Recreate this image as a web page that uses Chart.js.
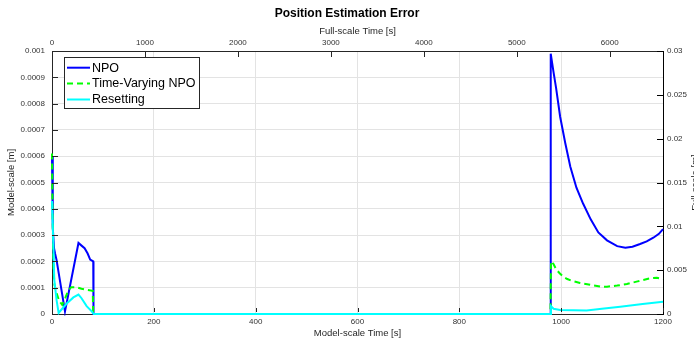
<!DOCTYPE html>
<html>
<head>
<meta charset="utf-8">
<script src="https://cdn.jsdelivr.net/npm/chart.js@4/dist/chart.umd.min.js"></script>
<style>
  html, body { margin: 0; padding: 0; background: #fff; overflow: hidden; }
  canvas { display: block; }
</style>
</head>
<body>
<canvas id="c" width="694" height="343"></canvas>
<script>
// Position error of three estimators, model-scale time [s] vs model-scale error [m]
const npoTime   = [0, 1.5, 4, 6, 9, 25.5, 52, 58, 64, 70, 75, 81, 81.5, 979, 979.5, 985, 990, 998, 1008, 1018, 1030, 1043, 1058, 1073, 1090, 1110, 1126, 1140, 1155, 1168, 1181, 1192, 1200];
const npoError  = [0.0006, 0.00033, 0.00025, 0.00023, 0.000205, 0.00001, 0.00027, 0.00026, 0.00025, 0.00023, 0.000207, 0.0002, 0, 0, 0.00099, 0.00092, 0.00086, 0.00075, 0.00065, 0.00056, 0.00048, 0.00042, 0.00036, 0.00031, 0.00028, 0.000258, 0.000252, 0.000256, 0.000266, 0.000276, 0.00029, 0.000305, 0.000323];

const tvnpoTime  = [0, 1, 3, 5, 9, 14, 20, 26, 32, 38, 48, 58, 70, 80, 81, 979, 980, 985, 990, 997, 1004, 1012, 1020, 1037, 1060, 1077, 1090, 1110, 1129, 1150, 1175, 1188, 1200];
const tvnpoError = [0.00061, 0.0004, 0.00017, 0.00011, 0.00008, 0.00005, 0.000035, 0.00006, 0.00009, 0.000102, 0.000102, 0.000096, 0.000091, 0.000088, 0, 0, 0.0002, 0.00019, 0.00017, 0.000155, 0.000142, 0.000133, 0.000127, 0.000118, 0.00011, 0.000104, 0.000104, 0.000108, 0.000114, 0.000124, 0.000136, 0.000138, 0.000133];

const resetTime  = [0, 2, 4.5, 9, 13, 20, 29, 42, 52, 58, 68, 78, 82, 979, 980, 985, 998, 1050, 1080, 1116, 1160, 1200];
const resetError = [0.00043, 0.0003, 0.00013, 0.000053, 0.000004, 0.00002, 0.00004, 0.000063, 0.000074, 0.00006, 0.00003, 0.00001, 0, 0, 0.00003, 0.00002, 0.000015, 0.000013, 0.00002, 0.000028, 0.000038, 0.000047];

// Axis ticks
const modelTimeTicks  = [0, 200, 400, 600, 800, 1000, 1200];
const fullTimeTicks   = [0, 1000, 2000, 3000, 4000, 5000, 6000];
const modelErrorTicks = [0, 0.0001, 0.0002, 0.0003, 0.0004, 0.0005, 0.0006, 0.0007, 0.0008, 0.0009, 0.001];
const fullErrorTicks  = [0, 0.005, 0.01, 0.015, 0.02, 0.025, 0.03];

// Froude scaling, 1:30 model
const lengthScale = 30;
const timeScale = Math.sqrt(lengthScale);
const modelTimeMax = 1200;
const modelErrorMax = 0.001;

const pts = (t, v) => t.map((x, i) => ({ x, y: v[i] }));
const fmt = v => String(parseFloat(Number(v).toFixed(6)));
const FONT = "'Liberation Sans', Arial, Helvetica, sans-serif";
Chart.defaults.font.family = FONT;

const AXIS = '#262626';
const GRID = '#e3e3e3';

const decorations = {
  id: 'decorations',
  beforeDraw(chart) {
    const ctx = chart.ctx;
    ctx.save();
    ctx.fillStyle = '#fff';
    ctx.fillRect(0, 0, chart.width, chart.height);
    ctx.restore();
  },
  afterDraw(chart) {
    const { ctx, chartArea: a, scales } = chart;
    const len = 6;
    ctx.save();
    ctx.lineWidth = 1;
    const seg = (x1, y1, x2, y2) => { ctx.beginPath(); ctx.moveTo(x1, y1); ctx.lineTo(x2, y2); ctx.stroke(); };
    ctx.strokeStyle = AXIS;
    scales.x.ticks.forEach(t => { const p = Math.round(scales.x.getPixelForValue(t.value)) + 0.5; seg(p, a.bottom - 2, p, a.bottom - len); });
    scales.x2.ticks.forEach(t => { const p = Math.round(scales.x2.getPixelForValue(t.value)) + 0.5; seg(p, a.top, p, a.top + len); });
    scales.y.ticks.forEach(t => { const p = Math.round(scales.y.getPixelForValue(t.value)) + 0.5; seg(a.left, p, a.left + len, p); });
    ctx.strokeStyle = '#000';
    scales.y2.ticks.forEach(t => { const p = Math.round(scales.y2.getPixelForValue(t.value)) + 0.5; seg(a.right, p, a.right - len, p); });

    // right axis title
    ctx.save();
    ctx.translate(691, (a.top + a.bottom) / 2);
    ctx.rotate(-Math.PI / 2);
    ctx.fillStyle = AXIS;
    ctx.font = '9.5px ' + FONT;
    ctx.textAlign = 'center';
    ctx.textBaseline = 'top';
    ctx.fillText('Full-scale [m]', 0, 0);
    ctx.restore();

    // legend
    const bx = 64.5, by = 57.5, bw = 135, bh = 51;
    ctx.fillStyle = '#fff';
    ctx.fillRect(bx, by, bw, bh);
    ctx.strokeStyle = AXIS;
    ctx.lineWidth = 1;
    ctx.strokeRect(bx, by, bw, bh);
    const rows = [67.7, 83.5, 99.5];
    ctx.font = '12.5px ' + FONT;
    ctx.textBaseline = 'middle';
    ctx.textAlign = 'left';
    chart.data.datasets.forEach((ds, i) => {
      const y = rows[i];
      ctx.strokeStyle = ds.borderColor;
      ctx.lineWidth = ds.borderWidth;
      ctx.setLineDash(ds.borderDash || []);
      seg(67, y, 90, y);
      ctx.setLineDash([]);
      ctx.fillStyle = '#000';
      ctx.fillText(ds.label, 92, y + 0.5);
    });
    ctx.restore();
  }
};

const tickFont = { size: 8 };
const titleFont = { size: 9.5 };
const lineClip = { left: 2, right: 2, top: 2, bottom: 2 };

new Chart(document.getElementById('c'), {
  type: 'line',
  data: {
    datasets: [
      { label: 'NPO', data: pts(npoTime, npoError), borderColor: '#0000ff', borderWidth: 2, order: 2, clip: lineClip },
      { label: 'Time-Varying NPO', data: pts(tvnpoTime, tvnpoError), borderColor: '#00ff00', borderWidth: 2, borderDash: [6, 4], order: 1, clip: lineClip },
      { label: 'Resetting', data: pts(resetTime, resetError), borderColor: '#00ffff', borderWidth: 2, order: 0, clip: lineClip }
    ]
  },
  options: {
    responsive: false,
    animation: false,
    devicePixelRatio: 1,
    parsing: false,
    elements: { point: { radius: 0 }, line: { tension: 0, fill: false } },
    layout: { padding: 0 },
    plugins: {
      legend: { display: false },
      tooltip: { enabled: false },
      title: {
        display: true,
        text: 'Position Estimation Error',
        color: '#000',
        font: { size: 12, weight: 'bold', lineHeight: 1.2 },
        padding: { top: 6, bottom: 0 }
      }
    },
    scales: {
      x: {
        type: 'linear', position: 'bottom', min: 0, max: modelTimeMax,
        afterBuildTicks: s => { s.ticks = modelTimeTicks.map(value => ({ value })); },
        afterFit: s => { s.height = 29; },
        ticks: { font: tickFont, color: '#333', padding: 3, maxRotation: 0, autoSkip: false, callback: fmt },
        grid: { color: GRID, lineWidth: 1, drawTicks: false },
        border: { color: AXIS, width: 1 },
        title: { display: true, text: 'Model-scale Time [s]', color: AXIS, font: titleFont, padding: { top: 0, bottom: 4 } }
      },
      x2: {
        type: 'linear', position: 'top', display: true, min: 0, max: modelTimeMax * timeScale,
        afterBuildTicks: s => { s.ticks = fullTimeTicks.map(value => ({ value })); },
        afterFit: s => { s.height = 30.6; },
        ticks: { font: tickFont, color: '#333', padding: 3, maxRotation: 0, autoSkip: false, callback: fmt },
        grid: { display: false, drawTicks: false },
        border: { color: AXIS, width: 1 },
        title: { display: true, text: 'Full-scale Time [s]', color: AXIS, font: titleFont, padding: { top: 5, bottom: 0 } }
      },
      y: {
        type: 'linear', position: 'left', min: 0, max: modelErrorMax,
        afterBuildTicks: s => { s.ticks = modelErrorTicks.map(value => ({ value })); },
        afterFit: s => { s.width = 52; },
        ticks: { font: tickFont, color: '#333', padding: 7, autoSkip: false, callback: fmt },
        grid: { color: GRID, lineWidth: 1, drawTicks: false },
        border: { color: AXIS, width: 1 },
        title: { display: true, text: 'Model-scale [m]', color: AXIS, font: titleFont, padding: { top: 6, bottom: 0 } }
      },
      y2: {
        type: 'linear', position: 'right', display: true, min: 0, max: modelErrorMax * lengthScale,
        afterBuildTicks: s => { s.ticks = fullErrorTicks.map(value => ({ value })); },
        afterFit: s => { s.width = 31; },
        ticks: { font: tickFont, color: '#333', padding: 4, autoSkip: false, callback: fmt },
        grid: { display: false, drawTicks: false },
        border: { color: '#000', width: 1 }
      }
    }
  },
  plugins: [decorations]
});
</script>
</body>
</html>
